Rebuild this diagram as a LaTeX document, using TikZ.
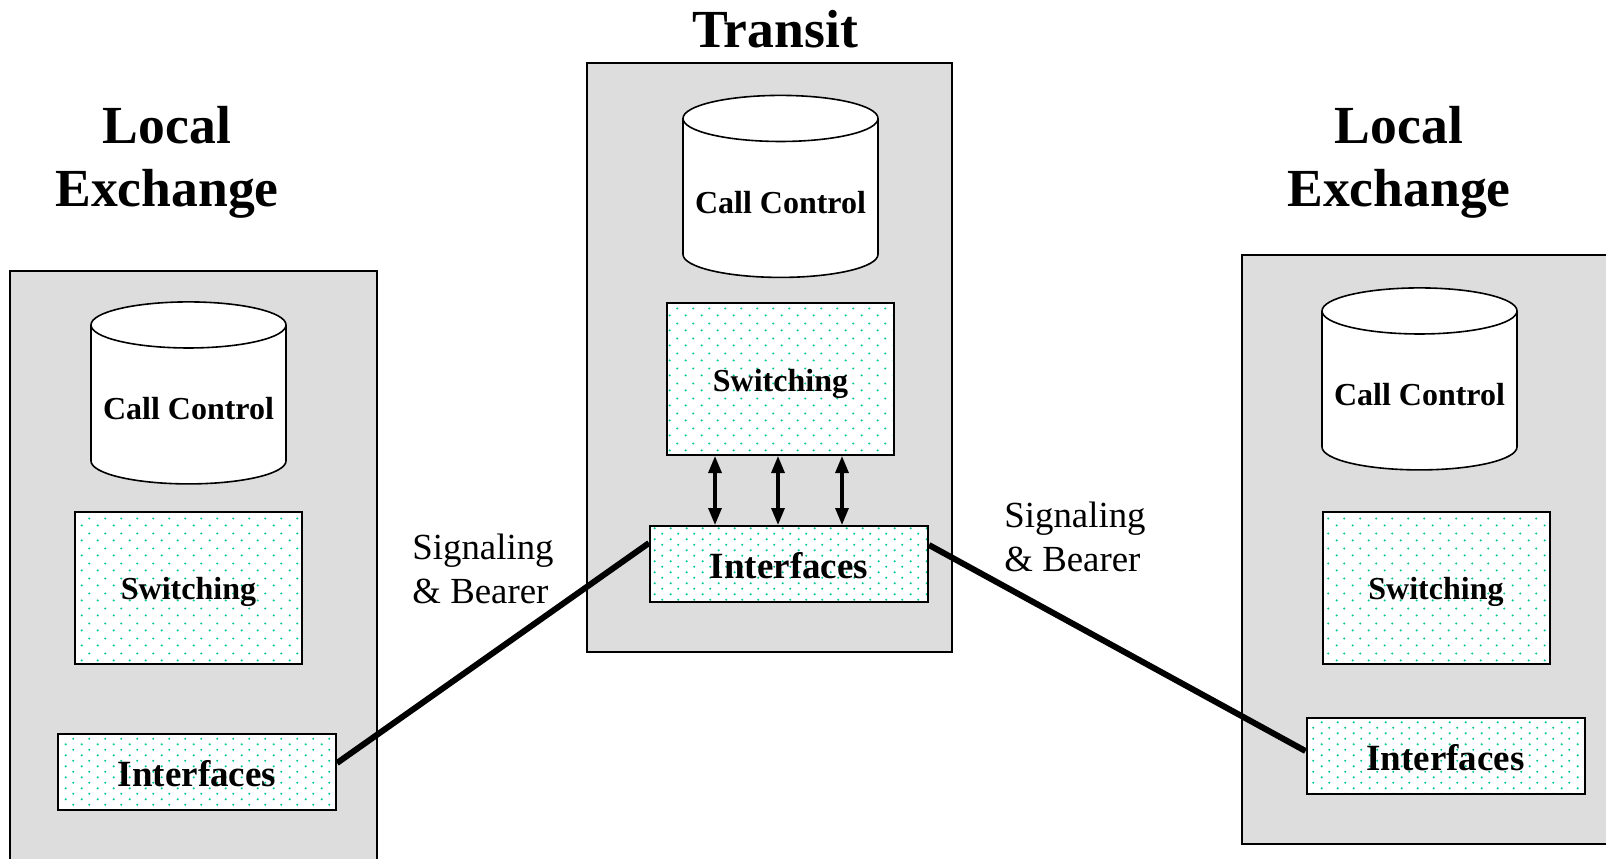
\documentclass[tikz,border=0pt]{standalone}
\usepackage{fontspec}
\setmainfont{Liberation Serif}
\usetikzlibrary{positioning}
\usetikzlibrary{arrows.meta}
\usetikzlibrary{shapes.geometric, patterns}
\definecolor{dotgreen}{RGB}{0,200,150}
\definecolor{exgray}{RGB}{221,221,221}
% staggered dot fills
\pgfdeclarepatternformonly{swdots}{\pgfpointorigin}{\pgfpoint{7.75pt}{7.5pt}}{\pgfpoint{7.75pt}{7.5pt}}{%
    \pgfpathcircle{\pgfpoint{1.9pt}{1.9pt}}{0.6pt}
    \pgfpathcircle{\pgfpoint{5.8pt}{5.6pt}}{0.6pt}
    \pgfusepath{fill}}
\pgfdeclarepatternformonly{ifdots}{\pgfpointorigin}{\pgfpoint{7.75pt}{5.7pt}}{\pgfpoint{7.75pt}{5.7pt}}{%
    \pgfpathcircle{\pgfpoint{1.9pt}{1.4pt}}{0.6pt}
    \pgfpathcircle{\pgfpoint{5.8pt}{4.3pt}}{0.6pt}
    \pgfusepath{fill}}
\tikzset{
 exch/.style = {%
    shape=rectangle,
    draw=black,
    fill=exgray,
    line width=1pt},
 title/.style = {%
    align=center,
    font=\fontsize{26.8}{31.75}\selectfont\bfseries},
 ctrl/.style = {%
    cylinder,
    shape border rotate=90,
    aspect=0.25,
    draw=black, fill=white,
    line width=0.8pt,
    minimum width=97.5pt, minimum height=91pt,
    font=\fontsize{16}{16}\selectfont\bfseries},
 switchbox/.style = {%
    draw=black, line width=1pt,
    preaction={fill=white},
    pattern=swdots,
    pattern color=dotgreen,
    minimum width=113.5pt, minimum height=76pt,
    text height=12pt, text depth=0pt,
    font=\fontsize{16}{16}\selectfont\bfseries},
 ifbox/.style = {%
    draw=black, line width=1pt,
    preaction={fill=white},
    pattern=ifdots,
    pattern color=dotgreen,
    minimum width=139pt, minimum height=38pt,
    text height=14.5pt, text depth=0pt,
    font=\fontsize{18.5}{18.5}\selectfont\bfseries},
 link/.style = {%
    draw=black,
    line width=3pt},% <-- thick signaling line
 dblarrow/.style = {%
    draw=black,
    line width=1.6pt,
    {Triangle[length=8.5pt,width=6.5pt]}-{Triangle[length=8.5pt,width=6.5pt]}},
 lbl/.style = {%
    align=left,
    font=\fontsize{18.4}{22}\selectfont},
    }

\begin{document}
\begin{tikzpicture}[x=0.5pt, y=-0.5pt]
    \clip (0,0) rectangle (1606,858);
    % exchanges
    \node[exch, minimum width=183.5pt, minimum height=299.5pt] (lex) at (193.5,570.5) {};
    \node[exch, minimum width=182.5pt, minimum height=294.5pt] (tex) at (769.5,357.5) {};
    \node[exch, minimum width=189pt, minimum height=294.5pt] (rex) at (1431,549.5) {};
    % titles
    \node[title] (ltitle) at (167,162.5) {Local\\Exchange};
    \node[title] (ttitle) at (775,29) {Transit};
    \node[title] (rtitle) at (1399,162.5) {Local\\Exchange};
    % left exchange
    \node[ctrl] (lcc) at (188.5,409) {Call Control};
    \node[switchbox] (lsw) at (188.5,587.5) {Switching};
    \node[ifbox] (lif) at (197,772) {Interfaces};
    % transit
    \node[ctrl] (tcc) at (780.5,202.5) {Call Control};
    \node[switchbox] (tsw) at (780.5,379) {Switching};
    \node[ifbox] (tif) at (789,564) {Interfaces};
    \foreach \x in {715,778,842}
        \draw[dblarrow] (tsw.south -| \x,0) -- (tif.north -| \x,0);
    % right exchange
    \node[ctrl] (rcc) at (1419.5,395) {Call Control};
    \node[switchbox] (rsw) at (1436,587.5) {Switching};
    \node[ifbox] (rif) at (1445.5,756) {Interfaces};
    % links
    \draw[link] ([yshift=4.5pt]lif.east) -- ([yshift=10.5pt]tif.west);
    \draw[link] ([yshift=9.5pt]tif.east) -- ([yshift=2.5pt]rif.west);
    \node[lbl] (llbl) at (483,569) {Signaling\\\& Bearer};
    \node[lbl] (rlbl) at (1075,536.5) {Signaling\\\& Bearer};
\end{tikzpicture}
\end{document}
